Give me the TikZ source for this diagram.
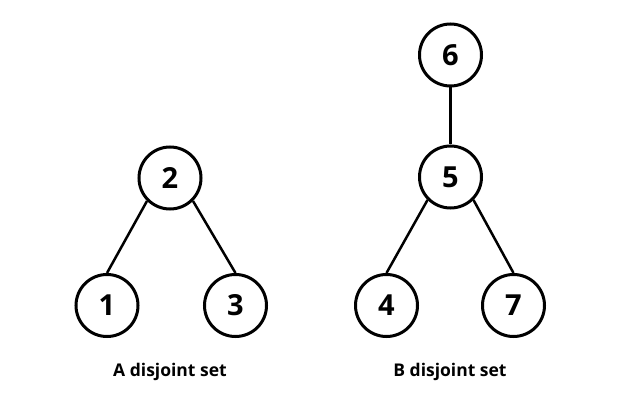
\documentclass[tikz,border=0pt]{standalone}
\usepackage{fontspec}
\setmainfont{Open Sans}
\begin{document}
\begin{tikzpicture}[x=1pt,y=-1pt,
  vtx/.style={circle,draw=black,line width=3pt,minimum size=62pt,inner sep=0pt,
    font=\bfseries\fontsize{29}{34}\selectfont},
  edge/.style={draw=black,line width=2.5pt},
  lbl/.style={font=\bfseries\fontsize{17.5}{21}\selectfont}]
\useasboundingbox[fill=white] (0,0) rectangle (627,417);
\node[vtx] (n2) at (170,178) {2};
\node[vtx] (n1) at (107,305.5) {1};
\node[vtx] (n3) at (235.5,305.5) {3};
\node[vtx] (n6) at (450.5,55) {6};
\node[vtx] (n5) at (450.5,177) {5};
\node[vtx] (n4) at (386.5,305.5) {4};
\node[vtx] (n7) at (513.5,305.5) {7};
\draw[edge] (n2.south west) -- (n1.north);
\draw[edge] (n2.south east) -- (n3.north);
\draw[edge] (n6.south) -- (n5.north);
\draw[edge] (n5.south west) -- (n4.north);
\draw[edge] (n5.south east) -- (n7.north);
\node[lbl] (la) at (170,372) {A disjoint set};
\node[lbl] (lb) at (450,372) {B disjoint set};
\end{tikzpicture}
\end{document}
